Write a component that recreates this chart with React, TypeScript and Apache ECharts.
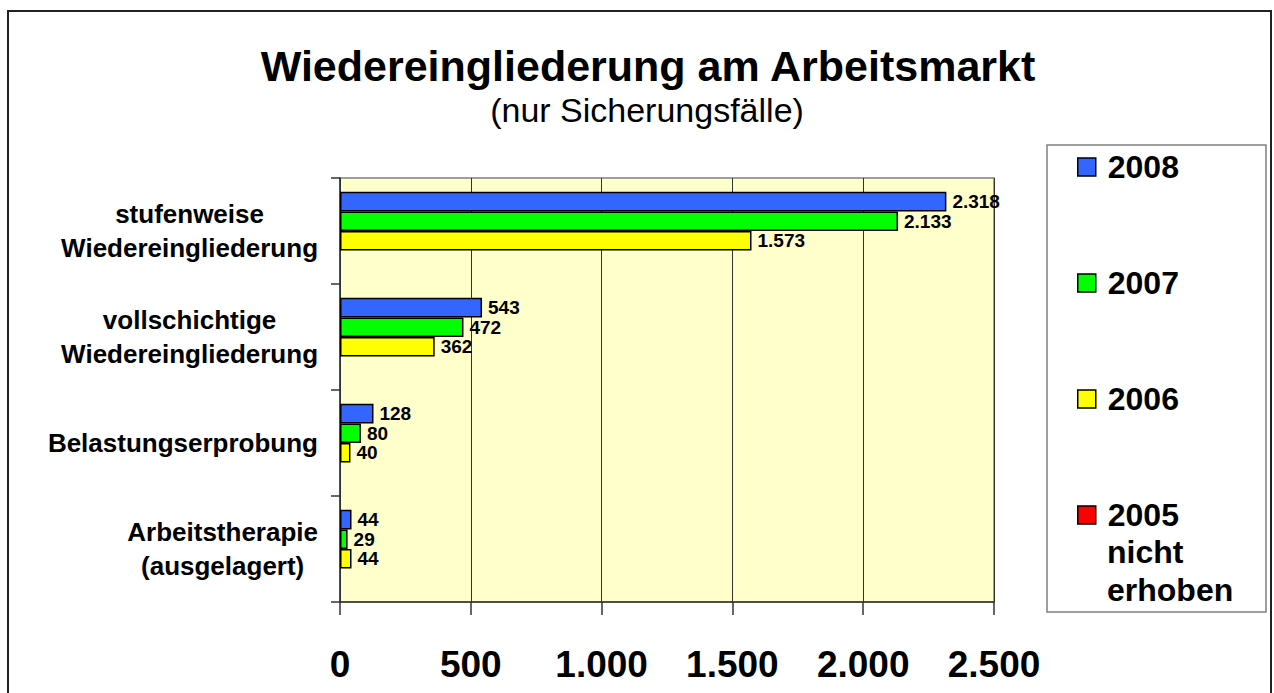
import React, { useEffect, useRef } from "react";
import * as echarts from "echarts";

const categories = [
  "stufenweise\nWiedereingliederung",
  "vollschichtige\nWiedereingliederung",
  "Belastungserprobung",
  "Arbeitstherapie\n(ausgelagert)",
];
const seriesNames = ["2008", "2007", "2006", "2005"];
const values2008 = [2318, 543, 128, 44];
const values2007 = [2133, 472, 80, 29];
const values2006 = [1573, 362, 40, 44];
const values2005: (number | null)[] = [null, null, null, null];
const seriesColors = ["#3366FF", "#00FF00", "#FFFF00", "#FF0000"];
const xTicks = [0, 500, 1000, 1500, 2000, 2500];
const titleText = "Wiedereingliederung am Arbeitsmarkt";
const subtitleText = "(nur Sicherungsfälle)";
const legendNote = "nicht\nerhoben";

const FONT = "'Liberation Sans', Arial, Helvetica, sans-serif";

const fmtDE = (v: number) =>
  String(v).replace(/\B(?=(\d{3})+(?!\d))/g, ".");

export default function App() {
  const ref = useRef<HTMLDivElement>(null);

  useEffect(() => {
    if (!ref.current) return;
    const chart = echarts.init(ref.current, undefined, { renderer: "svg" });
    const allValues = [values2008, values2007, values2006, values2005];

    const option: any = {
      animation: false,
      backgroundColor: "#FFFFFF",
      title: [
        {
          text: titleText,
          left: 643,
          textAlign: "center",
          top: 39,
          textStyle: {
            fontFamily: FONT,
            fontSize: 43,
            fontWeight: "bold",
            color: "#000",
          },
        },
        {
          text: subtitleText,
          left: 642,
          textAlign: "center",
          top: 88,
          textStyle: {
            fontFamily: FONT,
            fontSize: 34,
            fontWeight: "normal",
            color: "#000",
          },
        },
      ],
      legend: {
        data: seriesNames,
        orient: "vertical",
        left: 1077,
        top: 148,
        padding: 0,
        itemWidth: 18,
        itemHeight: 18,
        itemGap: 78,
        icon: "rect",
        selectedMode: false,
        itemStyle: { borderColor: "#000", borderWidth: 1.5 },
        textStyle: {
          fontFamily: FONT,
          fontSize: 32,
          fontWeight: "bold",
          color: "#000",
          lineHeight: 38,
          padding: [0, 0, 0, 7],
        },
      },
      grid: {
        left: 340,
        right: 280,
        top: 178,
        bottom: 91,
        show: true,
        backgroundColor: "#FFFFCC",
        borderColor: "#808080",
        borderWidth: 1.5,
      },
      xAxis: {
        type: "value",
        min: xTicks[0],
        max: xTicks[xTicks.length - 1],
        interval: 500,
        axisLine: { show: true, lineStyle: { color: "#333", width: 1.5 } },
        axisTick: { show: true, length: 13, lineStyle: { color: "#333", width: 1.5 } },
        splitLine: { show: true, lineStyle: { color: "#333", width: 1 } },
        axisLabel: {
          margin: 44,
          fontFamily: FONT,
          fontSize: 37,
          fontWeight: "bold",
          color: "#000",
          formatter: (v: number) => fmtDE(v),
        },
      },
      yAxis: {
        type: "category",
        data: categories,
        inverse: true,
        axisLine: { show: true, lineStyle: { color: "#333", width: 1.5 } },
        axisTick: { show: true, length: 9, lineStyle: { color: "#333", width: 1.5 } },
        axisLabel: {
          margin: 22,
          align: "right",
          formatter: (v: string) =>
            v
              .split("\n")
              .map((l) => `{c|${l}}`)
              .join("\n"),
          rich: {
            c: {
              align: "center",
              fontFamily: FONT,
              fontSize: 26,
              fontWeight: "bold",
              color: "#000",
              lineHeight: 34,
            },
          },
        },
      },
      graphic: [
        {
          type: "rect",
          shape: { x: 8, y: 11, width: 1263, height: 700 },
          style: { fill: "none", stroke: "#222", lineWidth: 2 },
          silent: true,
          z: 100,
        },
        {
          type: "rect",
          shape: { x: 1047, y: 145, width: 219, height: 467 },
          style: { fill: "none", stroke: "#808080", lineWidth: 1.5 },
          silent: true,
        },
        {
          type: "text",
          left: 1107,
          top: 533,
          style: {
            text: legendNote,
            fontFamily: FONT,
            fontSize: 32,
            fontWeight: "bold",
            fill: "#000",
            lineHeight: 38,
          },
          silent: true,
        },
      ],
      series: seriesNames.map((name, i) => ({
        name,
        type: "bar",
        data: allValues[i],
        barGap: "0%",
        barCategoryGap: "26%",
        itemStyle: {
          color: seriesColors[i],
          borderColor: "#000",
          borderWidth: 1.5,
        },
        label: {
          show: true,
          position: "right",
          distance: 6,
          fontFamily: FONT,
          fontSize: 19,
          lineHeight: 19,
          fontWeight: "bold",
          color: "#000",
          formatter: (p: any) => fmtDE(p.value),
        },
      })),
    };

    chart.setOption(option);
    return () => chart.dispose();
  }, []);

  return (
    <div
      ref={ref}
      style={{ position: "absolute", left: 0, top: 0, width: 1274, height: 693 }}
    />
  );
}
